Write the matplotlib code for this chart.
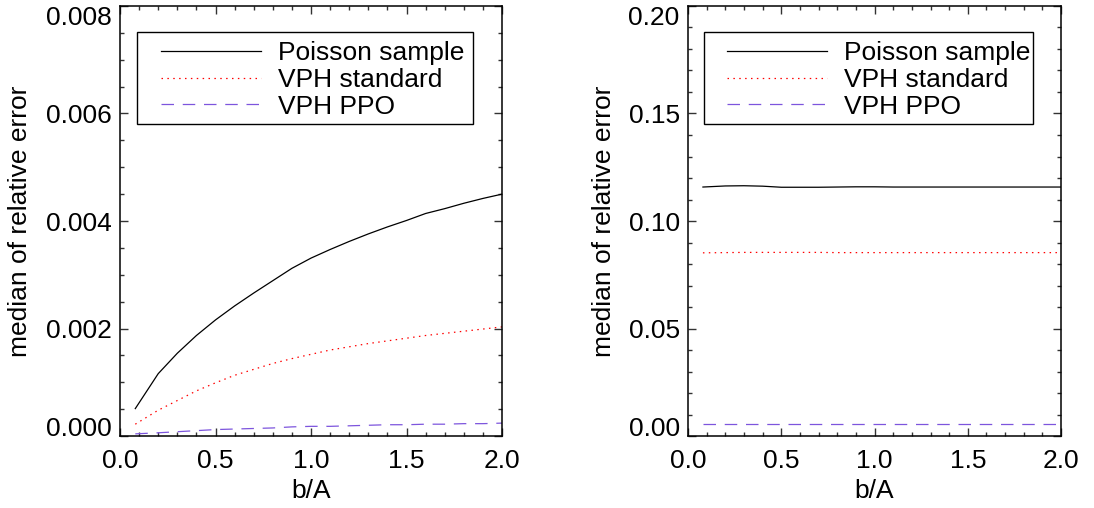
import matplotlib
matplotlib.use("Agg")
import matplotlib.pyplot as plt
from matplotlib.patches import Rectangle
from matplotlib.ticker import MultipleLocator

# b/A sampling
x = [0.08, 0.2, 0.3, 0.4, 0.5, 0.6, 0.7, 0.8, 0.9, 1.0,
     1.1, 1.2, 1.3, 1.4, 1.5, 1.6, 1.7, 1.8, 1.9, 2.0]

# left panel
left_poisson = [0.00051, 0.00116, 0.00154, 0.00187, 0.00216, 0.00242, 0.00266,
                0.00289, 0.00312, 0.00331, 0.00347, 0.00362, 0.00376, 0.00389,
                0.00401, 0.00414, 0.00423, 0.00433, 0.00442, 0.00450]
left_std = [0.00022, 0.00048, 0.00066, 0.00084, 0.00099, 0.00113, 0.00124,
            0.00135, 0.00144, 0.00152, 0.00160, 0.00166, 0.00172, 0.00177,
            0.00182, 0.00187, 0.00191, 0.00195, 0.00199, 0.00203]
left_ppo = [0.00004, 0.00006, 0.00008, 0.00010, 0.00012, 0.00013, 0.00014,
            0.00015, 0.00017, 0.00018, 0.00018, 0.00019, 0.00020, 0.00021,
            0.00021, 0.00022, 0.00022, 0.00023, 0.00023, 0.00024]

# right panel
right_poisson = [0.1158, 0.1163, 0.1164, 0.1162, 0.1157, 0.1157, 0.1157,
                 0.1158, 0.1159, 0.1159, 0.1158, 0.1158, 0.1158, 0.1158,
                 0.1158, 0.1158, 0.1158, 0.1158, 0.1158, 0.1158]
right_std = [0.0852, 0.0853, 0.0854, 0.0854, 0.0854, 0.0854, 0.0854,
             0.0853, 0.0853, 0.0853, 0.0853, 0.0853, 0.0853, 0.0853,
             0.0853, 0.0853, 0.0853, 0.0853, 0.0853, 0.0853]
right_ppo = [0.0054] * len(x)

labels = ["Poisson sample", "VPH standard", "VPH PPO"]

plt.rcParams.update({"font.family": ["Liberation Sans", "DejaVu Sans"],
                     "font.size": 19})

fig = plt.figure(figsize=(10.94, 5.08), dpi=100)
ax1 = fig.add_axes([0.1097, 0.1417, 0.3492, 0.8465])
ax2 = fig.add_axes([0.6289, 0.1417, 0.3410, 0.8465])

lw = 0.9
purple = "#7d55dd"


def draw(ax, poisson, std, ppo, ymax, ymaj, ymin, fmt, box):
    ax.plot(x, poisson, color="black", lw=lw, label=labels[0])
    ax.plot(x, std, color="#ff0000", lw=lw, ls=(0, (1.2, 3.5)), label=labels[1])
    ax.plot(x, ppo, color=purple, lw=lw, ls=(0, (10, 7)), label=labels[2])
    ax.set_xlim(0, 2.0)
    ax.set_ylim(0, ymax)
    ax.xaxis.set_major_locator(MultipleLocator(0.5))
    ax.xaxis.set_minor_locator(MultipleLocator(0.1))
    ax.yaxis.set_major_locator(MultipleLocator(ymaj))
    ax.yaxis.set_minor_locator(MultipleLocator(ymin))
    ax.yaxis.set_major_formatter(fmt)
    ax.xaxis.set_major_formatter("{x:.1f}")
    ax.tick_params(which="both", direction="in", top=True, right=True,
                   width=1.0, color="#333333")
    ax.tick_params(which="major", length=6)
    ax.tick_params(which="minor", length=3.2)
    ax.tick_params(axis="x", pad=9)
    ax.tick_params(axis="y", pad=6)
    for s in ax.spines.values():
        s.set_linewidth(1.1)
    ax.set_xlabel("b/A", labelpad=5)
    ax.set_ylabel("median of relative error")
    x0, x1 = box
    ax.add_patch(Rectangle((x0, 0.7256), x1 - x0, 0.9395 - 0.7256,
                           transform=ax.transAxes, fill=False,
                           edgecolor="black", lw=1.0, zorder=4))
    ax.legend(loc="upper left", bbox_to_anchor=(x0 + 0.063, 0.918),
              frameon=False, borderpad=0, borderaxespad=0,
              handlelength=3.8, handletextpad=0.62, labelspacing=0.1)
    # IDL keeps the end labels inside the axis range
    fig.canvas.draw()
    for t in ax.yaxis.get_major_ticks():
        loc = t.get_loc()
        if abs(loc) < ymaj * 1e-3:
            t.label1.set_verticalalignment("baseline")
        elif abs(loc - ymax) < ymaj * 1e-3:
            t.label1.set_verticalalignment("top")


draw(ax1, left_poisson, left_std, left_ppo, 0.008, 0.002, 0.0005,
     "{x:.3f}", (0.0445, 0.924))
draw(ax2, right_poisson, right_std, right_ppo, 0.20, 0.05, 0.01,
     "{x:.2f}", (0.042, 0.925))
ax1.yaxis.set_label_coords(-0.23, 0.5)
ax2.yaxis.set_label_coords(-0.194, 0.5)

fig.savefig("out.png", dpi=100)
